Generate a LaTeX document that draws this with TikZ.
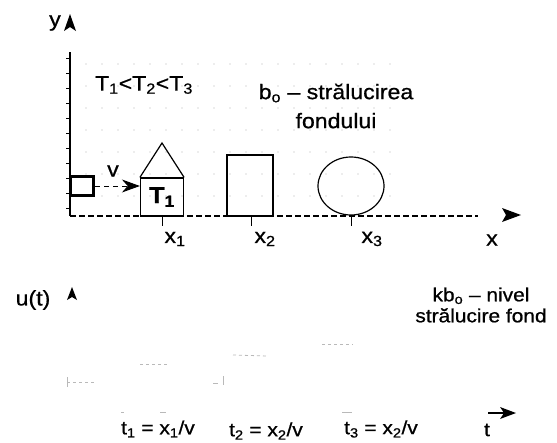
\documentclass[tikz,border=0pt]{standalone}
\usepackage{fontspec}
\setmainfont{Liberation Sans}[FakeStretch=1.1,FakeBold=0.8]
\usetikzlibrary{positioning,shapes.geometric,arrows.meta}
\tikzset{
  obj/.style={draw,line width=1.2pt,inner sep=0pt},
  fragment/.style={gray!55,line width=0.8pt},
  small/.style={font=\fontsize{19}{21}\selectfont},
}
\begin{document}
\begin{tikzpicture}[x=1pt,y=-1pt,>=Stealth,font=\fontsize{21}{29}\selectfont]
\useasboundingbox (0,0) rectangle (557,442);
% dotted background of the scene
\foreach \r in {64,86,...,196} \foreach \c in {86,102,...,390} {
  \fill[gray!60] (\c,\r) circle (0.6);
}
% axes x, y
\coordinate (o) at (70,216);
\coordinate (ytop) at (70,52);
\draw[line width=1.2pt] (ytop) -- (o);
\foreach \r in {58,73,...,208} \draw[line width=1pt] (66,\r) -- (70,\r);
\draw[line width=1.3pt,dash pattern=on 6pt off 3pt] (o) -- (478,216) coordinate (xend);
\fill (521,215) coordinate (xtip) -- (502,208) -- (506,215) -- (502,222) -- cycle;
\fill (70,14) coordinate (ytip) -- (64,31) -- (70,27) -- (76,31) -- cycle;
\node (ylbl) at (55,23) {y};
\node (xlbl) at (492,240) {x};
% objects
\node[obj,line width=3pt,minimum width=23,minimum height=19] (probe) at (82,186) {};
\node[obj,minimum width=43,minimum height=38,font=\bfseries\fontsize{23}{24}\selectfont] (obj1) at (162,197) {T\textsubscript{1}};
\draw[line width=1.2pt] (obj1.north west) -- (162,143) coordinate (roof) -- (obj1.north east);
\node[obj,minimum width=46,minimum height=61] (obj2) at (250,185.5) {};
\node[obj,ellipse,minimum width=66,minimum height=58] (obj3) at (351,186) {};
\draw[-{Stealth[length=18pt,width=13pt]},line width=1pt,dash pattern=on 5pt off 4pt] (probe.east) -- (probe.east -| obj1.west);
\node (vlbl) at (113,171) {v};
\foreach \n/\c/\l in {1/162/175,2/251/265,3/351/372} {
  \draw[line width=1pt] (\c,216) -- (\c,226);
  \node (x\n) at (\l,239) {x\textsubscript{\n}};
}
\node (tord) at (144,85) {T\textsubscript{1}<T\textsubscript{2}<T\textsubscript{3}};
\node[align=center] (bg) at (336,106) {b\textsubscript{o} – strălucirea\\fondului};
% signal u(t)
\node (ulbl) at (33,300) {u(t)};
\fill (72,287) coordinate (utip) -- (67,300) -- (72,297) -- (77,300) -- cycle;
\node[small,align=center] (kbg) at (481,305) {kb\textsubscript{o} – nivel\\strălucire fond};
\draw[line width=1.2pt] (488,413) -- (504,413);
\fill (516,413) coordinate (ttip) -- (500,407) -- (504,413) -- (500,419) -- cycle;
\node[small] (tlbl) at (487,430) {t};
\node[small] (t1) at (158,429) {t\textsubscript{1} = x\textsubscript{1}/v};
\node[small] (t2) at (266,431) {t\textsubscript{2} = x\textsubscript{2}/v};
\node[small] (t3) at (381,429) {t\textsubscript{3} = x\textsubscript{2}/v};
% faded remains of the curve
\draw[fragment] (67,377) -- (67,387);
\draw[fragment,dashed] (67,382) -- (95,382);
\draw[fragment,dashed] (140,364) -- (167,364);
\draw[fragment] (213,383) -- (218,383) (223,376) -- (223,385);
\draw[fragment,dashed] (233,355) -- (267,356);
\draw[fragment,dashed] (322,344) -- (353,344);
\draw[fragment] (121,412) -- (124,412) (160,412) -- (166,412) (342,412) -- (352,412);
\end{tikzpicture}
\end{document}
